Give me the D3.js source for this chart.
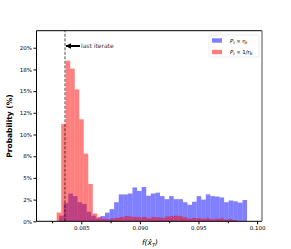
<!DOCTYPE html>
<html>
<head>
<meta charset="utf-8">
<script src="https://cdn.jsdelivr.net/npm/d3@7"></script>
<style>
  body { margin: 0; background: #fff; }
  text { font-family: "DejaVu Sans", sans-serif; }
</style>
</head>
<body>
<div id="chart"></div>
<script>
// histogram data (percent per bin)
var blueStart = 0.08311;
var blueWidth = 0.000391;
var blueValues = [0.65, 2.1, 3.2, 2.9, 2.2, 2.0, 1.1, 0.65, 0.35, 0.6,
    1.0, 1.4, 2.2, 3.1, 3.1, 3.2, 3.9, 3.5, 3.95, 2.95,
    3.2, 3.3, 2.9, 2.55, 2.9, 2.55, 2.55, 2.2, 1.9, 2.25,
    2.9, 2.5, 3.1, 2.9, 2.85, 2.75, 2.2, 2.4, 2.3, 2.15, 2.45];

var redStart = 0.08290;
var redWidth = 0.000385;
var redValues = [1.0, 11.2, 18.5, 17.6, 15.2, 11.75, 7.8, 4.3, 0.9, 0.5,
    0.3, 0.25, 0.35, 0.4, 0.5, 0.6, 0.55, 0.5, 0.45, 0.5,
    0.35, 0.5, 0.45, 0.4, 0.55, 0.6, 0.65, 0.6, 0.45, 0.3,
    0.4, 0.35, 0.3, 0.35, 0.25, 0.3, 0.35, 0.2, 0.25, 0.15];

var lastIterate = 0.08361;

var xMajor = [0.085, 0.090, 0.095, 0.100];
var xMinor = [0.0825, 0.0875, 0.0925, 0.0975];
var yTicks = [0, 2.5, 5, 7.5, 10, 12.5, 15, 17.5, 20];
var yTickLabels = ["0%", "2%", "5%", "8%", "10%", "12%", "15%", "18%", "20%"];

var W = 291, H = 249;
var pl = 36.5, pr = 262, pt = 30.7, pb = 221.3;

var svg = d3.select("#chart").append("svg")
    .attr("width", W).attr("height", H);

var x = d3.scaleLinear().domain([0.081178, 0.100418]).range([pl, pr]);
var y = d3.scaleLinear().domain([0, 21.96]).range([pb, pt]);

function toBins(start, width, vals) {
    return vals.map(function (v, i) {
        return { x0: start + i * width, x1: start + (i + 1) * width, v: v };
    });
}

// blue first, red on top
svg.append("g").selectAll("rect")
    .data(toBins(blueStart, blueWidth, blueValues))
    .enter().append("rect")
    .attr("x", d => x(d.x0))
    .attr("width", d => x(d.x1) - x(d.x0))
    .attr("y", d => y(d.v))
    .attr("height", d => y(0) - y(d.v))
    .attr("fill", "blue").attr("fill-opacity", 0.5);

svg.append("g").selectAll("rect")
    .data(toBins(redStart, redWidth, redValues))
    .enter().append("rect")
    .attr("x", d => x(d.x0))
    .attr("width", d => x(d.x1) - x(d.x0))
    .attr("y", d => y(d.v))
    .attr("height", d => y(0) - y(d.v))
    .attr("fill", "red").attr("fill-opacity", 0.5);

// last iterate
svg.append("line")
    .attr("x1", x(lastIterate)).attr("x2", x(lastIterate))
    .attr("y1", pb).attr("y2", pt)
    .attr("stroke", "#000").attr("stroke-opacity", 0.7)
    .attr("stroke-width", 1).attr("stroke-dasharray", "3,1.5");

svg.append("defs").append("marker")
    .attr("id", "ah").attr("viewBox", "0 0 10 10")
    .attr("refX", 9).attr("refY", 5)
    .attr("markerWidth", 3).attr("markerHeight", 3)
    .attr("orient", "auto")
    .append("path").attr("d", "M0,0L10,5L0,10z").attr("fill", "#000");

svg.append("line")
    .attr("x1", x(lastIterate) + 15).attr("x2", x(lastIterate) + 1)
    .attr("y1", 46).attr("y2", 46)
    .attr("stroke", "#000").attr("stroke-width", 2)
    .attr("marker-end", "url(#ah)");

svg.append("text")
    .attr("x", x(lastIterate) + 16).attr("y", 47.5)
    .attr("font-size", 6).attr("fill", "#333")
    .text("last iterate");

// axes
var xAxis = svg.append("g").attr("transform", "translate(0," + pb + ")");
xAxis.call(d3.axisBottom(x).tickValues(xMajor).tickFormat(d3.format(".3f"))
    .tickSizeOuter(0).tickSize(3).tickPadding(2));
xAxis.selectAll("text").attr("font-size", 5.5).attr("font-family", "DejaVu Sans");
xAxis.select(".domain").remove();

svg.append("g").attr("transform", "translate(0," + pb + ")")
    .call(d3.axisBottom(x).tickValues(xMinor).tickFormat("").tickSizeOuter(0).tickSize(2))
    .select(".domain").remove();

var yAxis = svg.append("g").attr("transform", "translate(" + pl + ",0)");
yAxis.call(d3.axisLeft(y).tickValues(yTicks)
    .tickFormat((d, i) => yTickLabels[i])
    .tickSizeOuter(0).tickSize(3).tickPadding(1.5));
yAxis.selectAll("text").attr("font-size", 5.5).attr("font-family", "DejaVu Sans");
yAxis.select(".domain").remove();

// spines
svg.append("line").attr("x1", pl).attr("x2", pl).attr("y1", pt).attr("y2", pb)
    .attr("stroke", "#000").attr("stroke-width", 1);
svg.append("line").attr("x1", pl).attr("x2", pr).attr("y1", pb).attr("y2", pb)
    .attr("stroke", "#000").attr("stroke-width", 1);
svg.append("line").attr("x1", pl).attr("x2", pr).attr("y1", pt).attr("y2", pt)
    .attr("stroke", "#000").attr("stroke-width", 1);
svg.append("line").attr("x1", pr).attr("x2", pr).attr("y1", pt).attr("y2", pb)
    .attr("stroke", "#888").attr("stroke-width", 1.5);

// axis labels
svg.append("text")
    .attr("transform", "translate(12," + ((pt + pb) / 2) + ") rotate(-90)")
    .attr("text-anchor", "middle")
    .attr("font-size", 7.5).attr("font-weight", "bold")
    .text("Probability (%)");

var xl = svg.append("text")
    .attr("x", 150).attr("y", 245)
    .attr("text-anchor", "middle")
    .attr("font-size", 7.5).attr("font-style", "italic");
xl.append("tspan").text("f(x\u0302");
xl.append("tspan").attr("font-size", 5).attr("dy", 1.5).text("T");
xl.append("tspan").attr("dy", -1.5).text(")");

// legend
var lg = svg.append("g");
lg.append("rect").attr("x", 209).attr("y", 35).attr("width", 50).attr("height", 22)
    .attr("fill", "#fff").attr("fill-opacity", 0.8)
    .attr("stroke", "#ddd").attr("stroke-width", 0.6).attr("rx", 1.5);

var legendItems = [
    { color: "blue", rhs: "\u03B7" },
    { color: "red", rhs: "1/\u03B7" }
];
legendItems.forEach(function (it, i) {
    var yy = 40.5 + i * 11.5;
    lg.append("rect").attr("x", 212).attr("y", yy - 2.2).attr("width", 10).attr("height", 4.4)
        .attr("fill", it.color).attr("fill-opacity", 0.5);
    var t = lg.append("text").attr("x", 230).attr("y", yy + 2)
        .attr("font-size", 5.5);
    t.append("tspan").attr("font-style", "italic").text("P");
    t.append("tspan").attr("font-size", 3.8).attr("dy", 1).attr("font-style", "italic").text("t");
    t.append("tspan").attr("dy", -1).text(" \u221D " + it.rhs);
    t.append("tspan").attr("font-size", 3.8).attr("dy", 1).attr("font-style", "italic").text("t");
});
</script>
</body>
</html>
